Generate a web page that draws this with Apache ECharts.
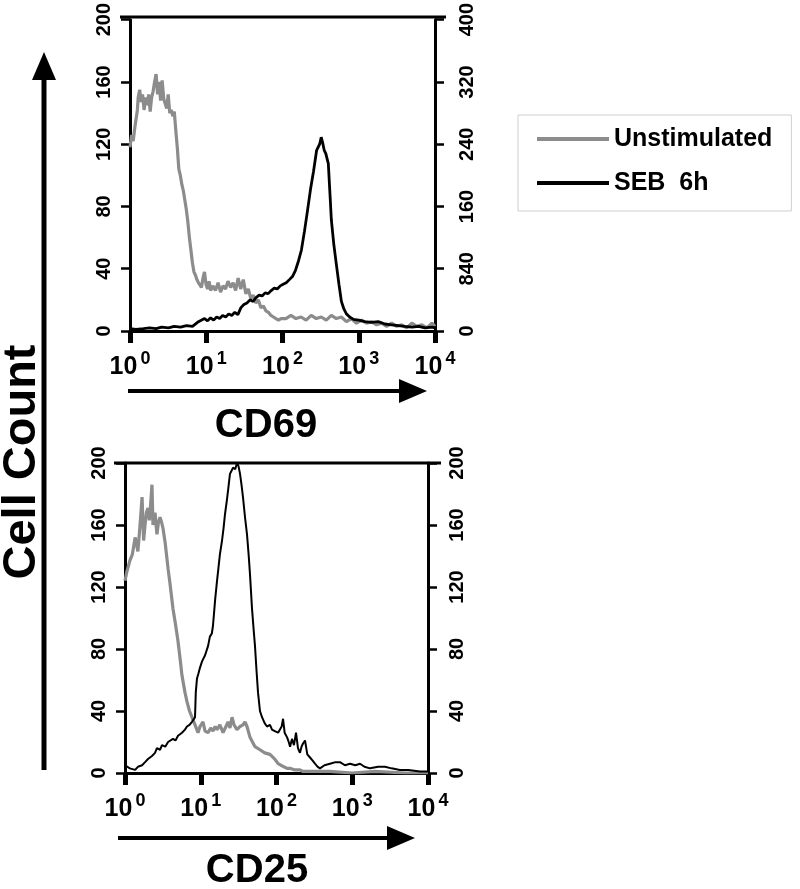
<!DOCTYPE html>
<html>
<head>
<meta charset="utf-8">
<script src="https://cdn.jsdelivr.net/npm/echarts@6/dist/echarts.min.js"></script>
<style>
html,body{margin:0;padding:0;background:#fff;}
#chart{width:800px;height:889px;}
</style>
</head>
<body>
<div id="chart"></div>
<script>
// ---------- DATA ----------
const seriesNames = ['Unstimulated', 'SEB  6h'];
const panelTitles = ['CD69', 'CD25'];
const yAxisTitle = 'Cell Count';
const topLeftTicks = ['0', '40', '80', '120', '160', '200'];
const topRightTicks = ['0', '840', '160', '240', '320', '400'];
const bottomLeftTicks = ['0', '40', '80', '120', '160', '200'];
const bottomRightTicks = ['0', '40', '80', '120', '160', '200'];

// CD69 panel, Unstimulated (left axis 0-200)
const cd69UnstimX = [1.0,1.05,1.10,1.16,1.20,1.25,1.28,1.34,1.40,1.46,1.53,1.60,1.68,1.76,1.84,1.92,2.01,2.10,2.20,2.30,2.41,2.52,2.64,2.77,2.90,3.03,3.17,3.32,3.48,3.64,3.81,4.0,4.17,4.37,4.57,4.79,5.01,5.24,5.48,5.74,6.01,6.29,6.58,6.89,7.21,7.55,7.90,8.27,8.65,9.06,9.48,9.92,10.4,10.9,11.4,12.3,13.2,14.3,15.4,16.6,17.9,19.3,20.9,22.5,24.3,26.2,28.3,30.6,33.0,35.6,38.4,41.5,44.7,48.3,52.0,56.2,60.5,65.4,70.5,76.1,82.0,88.6,95.5,111,129,150,175,204,238,277,322,375,437,508,592,689,802,934,1087,1265,1473,1714,1995,2322,2704,3147,3664,4266,4966,5781,6730,7834,9120,10000];
const cd69UnstimY = [118,126,122,131,136,142,150,155,147,152,142,150,145,152,141,150,154,160,165,152,160,148,161,149,150,143,152,140,142,138,141,128,118,104,100,94,90,84,78,70,60,52,44,38,36,33,31,30,28,34,38,30,27,32,26,29,26,31,25,29,27,32,28,31,26,34,27,33,24,27,21,23,18,20,15,16,13,12,10,9,8,7,8,8,10,8,9,7,10,8,9,7,10,8,9,6,8,5,7,5,6,4,5,3,5,3,4,2,5,3,4,2,5,3];

// CD69 panel, SEB 6h (right axis 0-400)
const cd69SebX = [1.0,1.2,1.5,1.8,2.2,2.6,3.2,3.8,4.6,5.5,6.6,7.9,9.5,10.4,11.4,12.5,13.7,15.0,16.4,18.0,19.7,21.6,23.7,26.0,28.5,31.2,34.2,37.5,41.1,45.0,49.3,54.0,59.2,64.9,71.1,77.9,85.3,93.5,102,112,123,135,148,162,177,194,213,233,255,280,307,322,336,353,370,399,420,437,470,508,550,592,640,689,760,853,1000,1200,1473,1800,2200,2700,3300,4000,5000,6100,7400,9120,10000];
const cd69SebY = [3,2,3,4,3,5,4,6,5,7,6,12,16,13,17,14,18,16,20,18,22,20,24,21,30,34,36,40,38,43,46,45,49,48,52,55,54,58,60,62,66,70,78,90,104,128,155,182,205,232,240,249,242,232,228,215,175,143,112,86,60,38,28,22,18,15,14,12,11,12,9,8,7,6,5,6,4,5,4];

// CD25 panel, Unstimulated (left axis 0-200)
const cd25UnstimX = [1.0,1.06,1.16,1.25,1.36,1.48,1.58,1.68,1.76,1.84,1.92,2.01,2.10,2.20,2.27,2.34,2.49,2.64,2.77,2.90,3.03,3.17,3.40,3.70,3.93,4.30,4.64,5.01,5.30,5.65,6.19,6.58,7.10,7.66,8.40,9.20,9.78,10.7,11.4,12.5,13.5,14.5,15.5,16.4,17.9,19.7,21.5,22.9,24.3,25.9,27.5,30.1,33.0,36.1,38.4,40.8,44.7,52.0,60.5,70.0,82.0,95.0,105,111,125,138,151,175,204,224,300,500,1000,2000,5000,10000];
const cd25UnstimY = [124,130,137,141,152,143,160,178,150,160,168,171,163,176,186,160,168,154,162,165,162,158,148,132,122,106,96,85,75,63,52,46,40,36,31,26,30,33,27,26,29,27,30,28,31,26,30,33,29,36,31,28,30,31,33,30,23,17,15,13,12,9,6,6,4,3,3,2,2,1,1,1,0,1,0,0];

// CD25 panel, SEB 6h (right axis 0-200)
const cd25SebX = [1.0,1.06,1.16,1.36,1.48,1.68,1.84,2.01,2.27,2.49,2.64,2.90,3.08,3.40,3.70,3.93,4.30,4.64,5.01,5.30,5.65,6.19,6.58,7.10,7.66,8.10,8.40,8.60,8.92,9.30,9.78,10.4,11.4,12.5,13.2,14.0,14.5,15.5,16.4,17.1,17.9,19.1,20.0,20.9,22.0,22.9,24.3,25.5,26.7,28.5,30.1,31.5,33.0,34.5,36.1,38.4,40.8,43.0,44.7,47.5,50.0,52.0,54.5,57.0,60.5,64.4,70.0,75.0,82.0,87.3,95.0,105,111,117,122,128,138,145,151,160,170,181,192,204,214,224,238,255,277,300,322,350,375,430,508,600,689,800,934,1100,1265,1450,1714,2200,2704,3300,4266,5500,7834,10000];
const cd25SebY = [5,4,3,2,4,5,7,9,11,13,16,15,18,17,20,19,22,21,24,23,26,28,30,31,33,34,36,52,61,64,68,72,76,82,88,90,95,112,124,132,141,150,158,167,175,182,193,195,197,196,200,198,193,186,178,165,154,140,128,106,92,82,66,52,40,36,32,30,31,28,27,26,25,30,35,26,23,20,17,22,18,26,16,13,17,19,21,12,10,8,6,4,3,5,6,7,7,5,6,5,6,4,3,4,4,3,2,2,1,1];

// ---------- LAYOUT ----------
const topGrid = {left: 130, top: 17, width: 305, height: 314};
const botGrid = {left: 125, top: 463, width: 303, height: 310};
const gray = '#8c8c8c';

function zip(xs, ys) { return xs.map((x, i) => [x, ys[i]]); }

function xAxisCfg(gridIndex) {
  return {
    type: 'log', logBase: 10, gridIndex: gridIndex, min: 1, max: 10000,
    axisLine: {show: true, onZero: false, lineStyle: {color: '#000', width: 3}},
    axisTick: {show: true, length: 12, lineStyle: {color: '#000', width: 5}},
    minorTick: {show: false},
    splitLine: {show: false},
    axisLabel: {
      margin: 19, showMinLabel: true, showMaxLabel: true,
      formatter: function (v) { return '{b|10}{s|' + Math.round(Math.log10(v)) + '}'; },
      rich: {
        b: {fontSize: 25, fontWeight: 'bold', color: '#000', fontFamily: 'Liberation Sans', lineHeight: 30, verticalAlign: 'bottom'},
        s: {fontSize: 18, fontWeight: 'bold', color: '#000', fontFamily: 'Liberation Sans', lineHeight: 30, verticalAlign: 'top', padding: [0, 0, 0, 3]}
      }
    }
  };
}

function yAxisCfg(gridIndex, pos, max, labels, margin) {
  return {
    type: 'value', gridIndex: gridIndex, position: pos, min: 0, max: max, interval: max / 5,
    axisLine: {show: true, lineStyle: {color: '#000', width: 3}},
    axisTick: {show: true, length: 9, lineStyle: {color: '#000', width: 2.5}},
    splitLine: {show: false},
    axisLabel: {
      rotate: 90, margin: margin, color: '#000', fontSize: 20, fontWeight: 'bold', fontFamily: 'Liberation Sans',
      formatter: function (v) { return labels[Math.round(v / (max / 5))]; }
    }
  };
}

function lineSeries(name, x, y, xi, yi, color, width, z) {
  return {
    name: name, type: 'line', xAxisIndex: xi, yAxisIndex: yi, data: zip(x, y),
    showSymbol: false, symbol: 'none', color: color, z: z,
    lineStyle: {color: color, width: width}, itemStyle: {color: color}
  };
}

function arrowH(x1, x2, y) {
  return [
    {type: 'line', shape: {x1: x1, y1: y, x2: x2 - 20, y2: y}, style: {stroke: '#000', lineWidth: 4}},
    {type: 'polygon', shape: {points: [[x2 - 28, y - 12], [x2, y], [x2 - 28, y + 12]]}, style: {fill: '#000'}}
  ];
}

const chart = echarts.init(document.getElementById('chart'), null, {renderer: 'canvas'});
const option = {
  animation: false,
  backgroundColor: '#fff',
  grid: [
    Object.assign({containLabel: false}, topGrid),
    Object.assign({containLabel: false}, botGrid)
  ],
  xAxis: [xAxisCfg(0), xAxisCfg(1)],
  yAxis: [
    yAxisCfg(0, 'left', 200, topLeftTicks, 16),
    yAxisCfg(0, 'right', 400, topRightTicks, 22),
    yAxisCfg(1, 'left', 200, bottomLeftTicks, 16),
    yAxisCfg(1, 'right', 200, bottomRightTicks, 19)
  ],
  legend: {
    orient: 'vertical', left: 518, top: 115,
    padding: [11, 19, 15, 19], borderColor: '#cfcfcf', borderWidth: 1,
    itemWidth: 72, itemHeight: 4, itemGap: 18, icon: 'rect',
    textStyle: {fontSize: 25, fontWeight: 'bold', color: '#000', fontFamily: 'Liberation Sans', lineHeight: 26},
    data: seriesNames
  },
  series: [
    lineSeries(seriesNames[0], cd69UnstimX, cd69UnstimY, 0, 0, gray, 3.2, 2),
    lineSeries(seriesNames[1], cd69SebX, cd69SebY, 0, 1, '#000', 2.8, 3),
    lineSeries(seriesNames[0], cd25UnstimX, cd25UnstimY, 1, 2, gray, 3.2, 2),
    lineSeries(seriesNames[1], cd25SebX, cd25SebY, 1, 3, '#000', 2, 3)
  ],
  graphic: [
    // top frame lines
    {type: 'line', shape: {x1: topGrid.left - 10, y1: topGrid.top, x2: topGrid.left + topGrid.width + 11, y2: topGrid.top}, style: {stroke: '#000', lineWidth: 3}},
    {type: 'line', shape: {x1: botGrid.left - 11, y1: botGrid.top, x2: botGrid.left + botGrid.width + 13, y2: botGrid.top}, style: {stroke: '#000', lineWidth: 3}},
    // x arrows
    ...arrowH(128, 427, 391),
    ...arrowH(118, 415, 838),
    // vertical arrow
    {type: 'line', shape: {x1: 44, y1: 770, x2: 44, y2: 72}, style: {stroke: '#000', lineWidth: 5}},
    {type: 'polygon', shape: {points: [[32, 80], [44, 52], [56, 80]]}, style: {fill: '#000'}},
    // titles
    {type: 'text', x: 266, y: 426, style: {text: panelTitles[0], fontSize: 40, fontWeight: 'bold', fontFamily: 'Liberation Sans', fill: '#000', align: 'center', verticalAlign: 'middle'}},
    {type: 'text', x: 257, y: 871, style: {text: panelTitles[1], fontSize: 40, fontWeight: 'bold', fontFamily: 'Liberation Sans', fill: '#000', align: 'center', verticalAlign: 'middle'}},
    {type: 'text', x: 22, y: 462, rotation: Math.PI / 2, style: {text: yAxisTitle, fontSize: 47, fontWeight: 'bold', fontFamily: 'Liberation Sans', fill: '#000', align: 'center', verticalAlign: 'middle'}}
  ]
};
chart.setOption(option);
</script>
</body>
</html>
